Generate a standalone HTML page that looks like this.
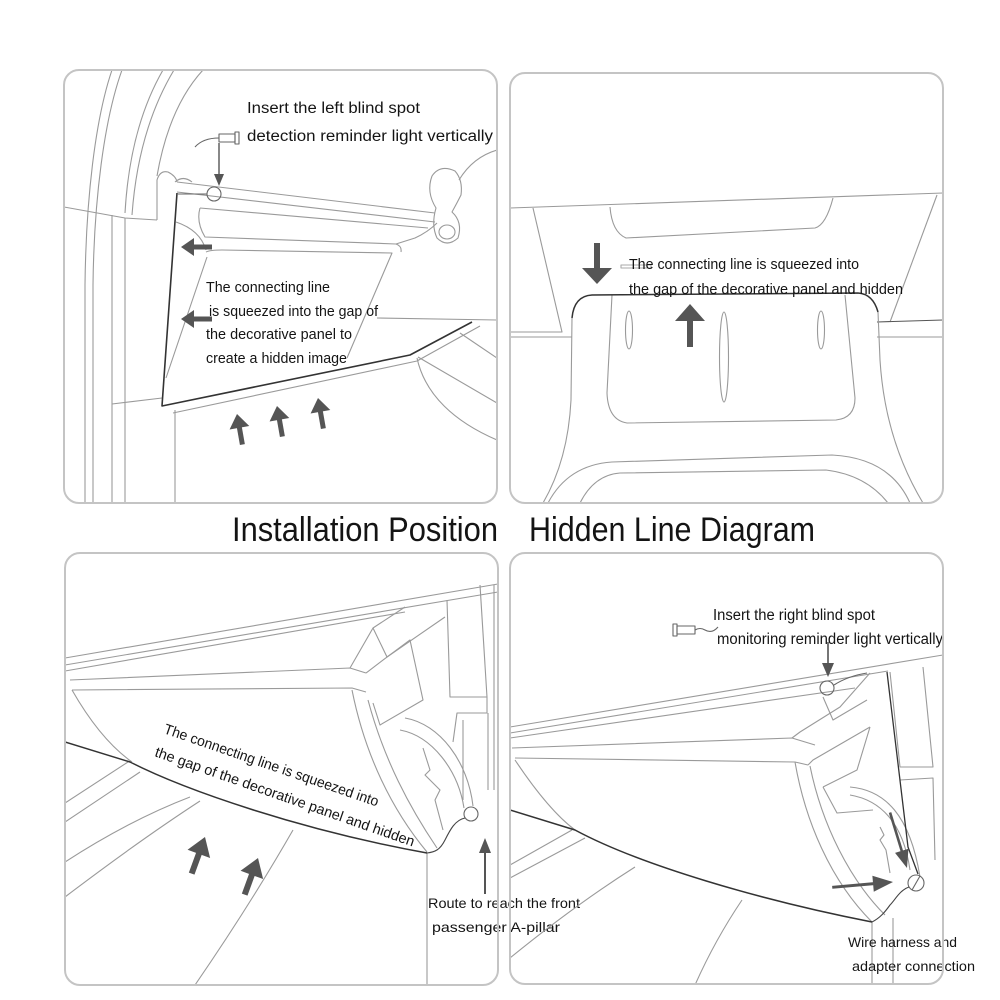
<!DOCTYPE html>
<html><head><meta charset="utf-8">
<style>
html,body{margin:0;padding:0;background:#fff;}
svg{display:block}
text{font-family:"Liberation Sans",sans-serif;fill:#141414;}
</style></head><body>
<svg width="1000" height="1000" viewBox="0 0 1000 1000" xmlns="http://www.w3.org/2000/svg">
<defs>
<clipPath id="c1"><rect x="64" y="70" width="433" height="433" rx="15"/></clipPath>
<clipPath id="c2"><rect x="510" y="73" width="433" height="430" rx="15"/></clipPath>
<clipPath id="c3"><rect x="65" y="553" width="433" height="432" rx="15"/></clipPath>
<clipPath id="c4"><rect x="510" y="553" width="433" height="431" rx="15"/></clipPath>
</defs>
<rect width="1000" height="1000" fill="#fff"/>

<!-- ================= TL PANEL ================= -->
<g clip-path="url(#c1)" fill="none" stroke="#9a9a9a" stroke-width="1.1" stroke-linejoin="round">
<path d="M85 503 L85 285 C86 200 95 120 112 70"/>
<path d="M93 503 L93 285 C94 200 104 120 122 70"/>
<path d="M125 213 C128 160 140 110 163 70"/>
<path d="M132 215 C136 160 150 110 174 70"/>
<path d="M157 176 C165 130 180 95 203 70"/>
<path d="M64 207 L125 218 L157 220"/>
<path d="M112 215 L112 503 M125 218 L125 503"/>
<path d="M157 220 L157 180 Q160 170 168 172 Q176 176 177 182"/>
<path d="M175 182 Q183 175 192 182"/>
<path d="M177 182 L435 213"/>
<path d="M177 192 L435 222"/>
<path d="M200 208 Q196 222 205 237 L396 244 Q402 246 401 252"/>
<path d="M200 208 L428 228"/>
<path d="M176 222 Q200 230 206 250"/>
<path d="M206 252 Q210 250 222 250 L392 253 L347 358"/>
<path d="M207 257 L166 378"/>
<path d="M396 244 L415 238 Q428 232 437 223"/>
<path d="M173 413 L417 361 L480 326"/>
<path d="M175 410 L175 503"/>
<path d="M112 404 L162 398"/>
<path d="M377 318 L497 320"/>
<path d="M417 358 C425 395 455 422 497 440"/>
<path d="M418 357 L497 403"/>
<path d="M460 333 L497 358"/>
<path d="M432 176 Q440 164 455 171 Q463 180 461 195 Q457 203 452 212 Q463 222 458 238 Q447 248 437 238 Q431 225 436 208 Q426 192 432 176Z"/>
<path d="M459 180 C468 165 480 155 497 150"/>
<ellipse cx="447" cy="232" rx="8" ry="7"/>
<path d="M177 193 L162 406 L410 355 L472 322" stroke="#333" stroke-width="1.6"/>
<g stroke="#666" stroke-width="1.1">
<path d="M195 147 Q203 138 219 138"/>
<rect x="219" y="134" width="16" height="8"/>
<rect x="235" y="132" width="4" height="12"/>
<circle cx="214" cy="194" r="7"/>
<path d="M207 194 L178 194"/>
</g>
</g>
<g fill="#555">
<g transform="translate(219,186) rotate(180)"><path d="M0 0 L-5 12 L5 12Z"/><rect x="-0.7" y="11" width="1.4" height="32"/></g>
<g transform="translate(181,247) rotate(-90)"><path d="M0 0 L-9 13 L9 13Z"/><rect x="-2.5" y="12" width="5" height="19"/></g>
<g transform="translate(181,319) rotate(-90)"><path d="M0 0 L-9 13 L9 13Z"/><rect x="-2.5" y="12" width="5" height="19"/></g>
<g transform="translate(237,414) rotate(-10)"><path d="M0 0 L-10 14 L10 14Z"/><rect x="-2.5" y="13" width="5" height="18"/></g>
<g transform="translate(277,406) rotate(-10)"><path d="M0 0 L-10 14 L10 14Z"/><rect x="-2.5" y="13" width="5" height="18"/></g>
<g transform="translate(318,398) rotate(-10)"><path d="M0 0 L-10 14 L10 14Z"/><rect x="-2.5" y="13" width="5" height="18"/></g>
</g>
<g font-size="15.5">
<text x="247" y="113" textLength="173" lengthAdjust="spacingAndGlyphs">Insert the left blind spot</text>
<text x="247" y="141" textLength="246" lengthAdjust="spacingAndGlyphs">detection reminder light vertically</text>
</g>
<g font-size="14.5">
<text x="206" y="292" textLength="124" lengthAdjust="spacingAndGlyphs">The connecting line</text>
<text x="209" y="316" textLength="169" lengthAdjust="spacingAndGlyphs">is squeezed into the gap of</text>
<text x="206" y="339" textLength="146" lengthAdjust="spacingAndGlyphs">the decorative panel to</text>
<text x="206" y="363" textLength="141" lengthAdjust="spacingAndGlyphs">create a hidden image</text>
</g>

<!-- ================= TR PANEL ================= -->
<g clip-path="url(#c2)" fill="none" stroke="#9a9a9a" stroke-width="1.1" stroke-linejoin="round">
<path d="M510 208 L943 193"/>
<path d="M533 208 L562 332 L510 332"/>
<path d="M510 337 L572 337"/>
<path d="M610 207 Q612 232 626 238 L815 228 Q826 225 833 198"/>
<path d="M937 195 L890 322"/>
<path d="M877 322 L943 320" stroke="#555"/>
<path d="M877 337 L943 337"/>
<path d="M572 318 L571 400 Q568 460 543 503"/>
<path d="M878 312 L880 360 Q885 440 923 503"/>
<path d="M612 295 L607 393 Q608 420 627 423 L836 420 Q855 418 855 398 L845 295"/>
<ellipse cx="629" cy="330" rx="3.5" ry="19"/>
<ellipse cx="724" cy="357" rx="4.5" ry="45"/>
<ellipse cx="821" cy="330" rx="3.5" ry="19"/>
<path d="M548 503 Q568 465 612 462 L832 455 Q890 458 910 503"/>
<path d="M580 503 Q594 475 620 473 L826 470 Q866 475 888 503"/>
<path d="M572 318 Q574 296 592 295 L858 293 Q873 294 878 312" stroke="#333" stroke-width="1.5"/>
<rect x="621" y="265" width="30" height="3" stroke="#aaa"/>
</g>
<g fill="#555">
<g transform="translate(597,284) rotate(180)"><path d="M0 0 L-15 16 L15 16Z"/><rect x="-3" y="15" width="6" height="26"/></g>
<g transform="translate(690,304) rotate(0)"><path d="M0 0 L-15 17 L15 17Z"/><rect x="-3" y="16" width="6" height="27"/></g>
</g>
<g font-size="14.5">
<text x="629" y="269" textLength="230" lengthAdjust="spacingAndGlyphs">The connecting line is squeezed into</text>
<text x="629" y="294" textLength="274" lengthAdjust="spacingAndGlyphs">the gap of the decorative panel and hidden</text>
</g>

<!-- ================= BL PANEL ================= -->
<g clip-path="url(#c3)" fill="none" stroke="#9a9a9a" stroke-width="1.1" stroke-linejoin="round">
<path d="M65 658 L498 584"/>
<path d="M65 665 L498 592"/>
<path d="M65 671 L405 612"/>
<path d="M70 680 L350 668 L366 673"/>
<path d="M72 690 L352 688 L366 692"/>
<path d="M72 690 C88 718 108 745 132 762"/>
<path d="M65 803 L128 762"/>
<path d="M65 822 L140 772"/>
<path d="M65 862 Q130 820 190 797"/>
<path d="M65 897 Q140 840 200 801"/>
<path d="M293 830 Q250 905 195 985"/>
<path d="M427 853 L427 985"/>
<path d="M350 668 L373 628 L405 607"/>
<path d="M373 628 L387 657 L445 617"/>
<path d="M366 673 L387 657 L410 640 L423 700 L380 725 L373 703"/>
<path d="M352 690 C365 755 392 810 427 852"/>
<path d="M368 700 C384 760 410 808 437 848"/>
<path d="M447 600 L450 697 L487 697 L487 713 L457 713 L453 742"/>
<path d="M480 585 L487 697"/>
<path d="M488 713 L488 790"/>
<path d="M494 585 L494 790"/>
<path d="M405 718 C440 724 468 762 473 806"/>
<path d="M400 730 C432 736 458 770 464 808"/>
<path d="M423 748 L430 770 L425 775 L440 790 L435 800 L443 830"/>
<path d="M463 720 L463 800"/>
<path d="M65 742 L130 762 C185 790 300 830 427 853" stroke="#333" stroke-width="1.5"/>
<circle cx="471" cy="814" r="7" stroke="#666"/>
<path d="M465 818 C455 820 450 830 445 840 C440 850 435 852 427 853" stroke="#444"/>
</g>
<g fill="#555">
<g transform="translate(205,837) rotate(20)"><path d="M0 0 L-12 18 L12 18Z"/><rect x="-3" y="17" width="6" height="22"/></g>
<g transform="translate(258,858) rotate(20)"><path d="M0 0 L-12 18 L12 18Z"/><rect x="-3" y="17" width="6" height="22"/></g>
<g transform="translate(485,838)"><path d="M0 0 L-6 15 L6 15Z"/><rect x="-1" y="14" width="2" height="42"/></g>
</g>
<g font-size="14.5">
<text transform="translate(163,733) rotate(19)" textLength="226" lengthAdjust="spacingAndGlyphs">The connecting line is squeezed into</text>
<text transform="translate(154,756) rotate(19.3)" textLength="274" lengthAdjust="spacingAndGlyphs">the gap of the decorative panel and hidden</text>
</g>
<g font-size="14">
<text x="428" y="908" textLength="152" lengthAdjust="spacingAndGlyphs">Route to reach the front</text>
<text x="432" y="932" textLength="128" lengthAdjust="spacingAndGlyphs">passenger A-pillar</text>
</g>

<!-- ================= BR PANEL ================= -->
<g clip-path="url(#c4)" fill="none" stroke="#9a9a9a" stroke-width="1.1" stroke-linejoin="round">
<path d="M510 727 L943 655"/>
<path d="M510 733 L888 671"/>
<path d="M510 738 L855 688"/>
<path d="M512 748 L792 738 L815 745"/>
<path d="M515 758 L795 762 L808 765"/>
<path d="M515 760 C535 790 555 815 575 830"/>
<path d="M510 865 L572 830"/>
<path d="M510 878 L585 838"/>
<path d="M510 958 Q575 905 635 867"/>
<path d="M695 985 Q715 940 742 900"/>
<path d="M872 922 L872 985"/>
<path d="M893 918 L893 985"/>
<path d="M792 738 L800 732 L840 707 L870 673"/>
<path d="M808 765 L813 760 L870 727"/>
<path d="M823 697 L833 720 L867 700"/>
<path d="M890 672 L900 767 L933 767 L923 667"/>
<path d="M900 780 L933 778 L935 860"/>
<path d="M943 655 L945 860"/>
<path d="M795 762 C805 820 830 880 872 922"/>
<path d="M810 766 C822 825 850 880 885 915"/>
<path d="M823 787 L857 770 L870 727"/>
<path d="M823 787 L837 813 L873 810"/>
<path d="M850 787 C885 790 910 815 920 877"/>
<path d="M850 795 C880 800 903 822 910 870"/>
<path d="M880 827 L884 835 L880 840 L886 850 L890 873"/>
<path d="M510 810 L575 830 C640 865 760 900 872 922" stroke="#333" stroke-width="1.5"/>
<path d="M887 672 L908 847 L918 874" stroke="#333" stroke-width="1.3"/>
<g stroke="#666">
<circle cx="827" cy="688" r="7"/>
<path d="M834 685 Q848 676 867 673"/>
<rect x="677" y="626" width="18" height="8"/>
<rect x="673" y="624" width="4" height="12"/>
<path d="M695 630 Q700 627 705 630 Q712 634 718 627"/>
<circle cx="916" cy="883" r="8"/>
<path d="M912 890 L920 876"/>
<path d="M909 887 C900 890 895 900 890 905 C885 912 880 918 872 922" stroke="#444"/>
</g>
</g>
<g fill="#555">
<g transform="translate(828,677) rotate(180)"><path d="M0 0 L-6 14 L6 14Z"/><rect x="-0.8" y="13" width="1.6" height="22"/></g>
<g transform="translate(907,868) rotate(163)"><path d="M0 0 L-7 18 L7 18Z"/><rect x="-1.3" y="17" width="2.6" height="41"/></g>
<g transform="translate(893,882) rotate(85)"><path d="M0 0 L-8 20 L8 20Z"/><rect x="-1.5" y="19" width="3" height="42"/></g>
</g>
<g font-size="15.5">
<text x="713" y="620" textLength="162" lengthAdjust="spacingAndGlyphs">Insert the right blind spot</text>
<text x="717" y="644" textLength="226" lengthAdjust="spacingAndGlyphs">monitoring reminder light vertically</text>
</g>
<g font-size="14">
<text x="848" y="947" textLength="109" lengthAdjust="spacingAndGlyphs">Wire harness and</text>
<text x="852" y="971" textLength="123" lengthAdjust="spacingAndGlyphs">adapter connection</text>
</g>

<!-- panel borders -->
<g fill="none" stroke="#c4c4c4" stroke-width="2">
<rect x="64" y="70" width="433" height="433" rx="15"/>
<rect x="510" y="73" width="433" height="430" rx="15"/>
<rect x="65" y="553" width="433" height="432" rx="15"/>
<rect x="510" y="553" width="433" height="431" rx="15"/>
</g>

<!-- titles -->
<g font-size="34">
<text x="232" y="541" textLength="266" lengthAdjust="spacingAndGlyphs">Installation Position</text>
<text x="529" y="541" textLength="286" lengthAdjust="spacingAndGlyphs">Hidden Line Diagram</text>
</g>
</svg>
</body></html>
